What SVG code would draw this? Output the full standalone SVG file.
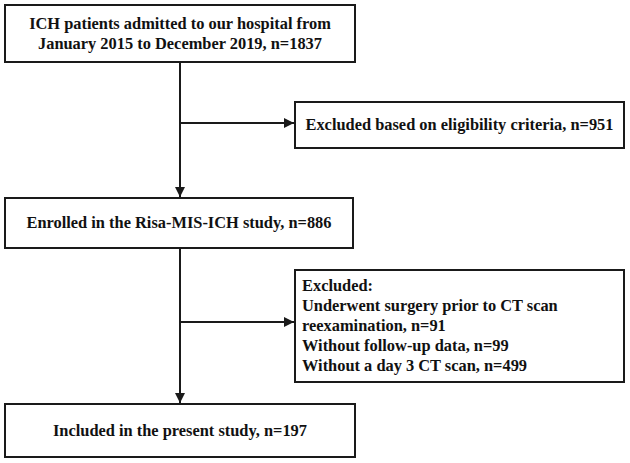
<svg xmlns="http://www.w3.org/2000/svg" width="630" height="463" viewBox="0 0 630 463">
<style>
.box{fill:#fff;stroke:#1a1a1a;stroke-width:2}
.t{font-family:"Liberation Serif","Times New Roman",serif;font-weight:bold;font-size:16.4px;fill:#111}
.c{text-anchor:middle}
.ln{stroke:#1a1a1a;stroke-width:2;fill:none}
</style>
<defs>
<marker id="ah" viewBox="0 0 10 10" refX="10" refY="5" markerWidth="6" markerHeight="5" markerUnits="strokeWidth" orient="auto">
<path d="M0,0 L10,5 L0,10 z" fill="#1a1a1a"/>
</marker>
</defs>
<rect width="630" height="463" fill="#fff"/>
<g id="connectors">
<line class="ln" x1="180" y1="62" x2="180" y2="197" marker-end="url(#ah)"/>
<line class="ln" x1="180" y1="123" x2="294" y2="123" marker-end="url(#ah)"/>
<line class="ln" x1="180" y1="248" x2="180" y2="403" marker-end="url(#ah)"/>
<line class="ln" x1="180" y1="322" x2="294" y2="322" marker-end="url(#ah)"/>
</g>
<g id="n1">
<rect class="box" x="5" y="5" width="350" height="57"/>
<text class="t c" x="180" y="29">ICH patients admitted to our hospital from</text>
<text class="t c" x="180" y="49">January 2015 to December 2019, n=1837</text>
</g>
<g id="n2">
<rect class="box" x="295" y="102" width="329" height="46"/>
<text class="t c" x="459.5" y="130">Excluded based on eligibility criteria, n=951</text>
</g>
<g id="n3">
<rect class="box" x="5" y="198" width="348" height="50"/>
<text class="t c" x="179" y="228">Enrolled in the Risa-MIS-ICH study, n=886</text>
</g>
<g id="n4">
<rect class="box" x="295" y="270" width="329" height="112"/>
<text class="t" x="302" y="291">Excluded:</text>
<text class="t" x="302" y="311">Underwent surgery prior to CT scan</text>
<text class="t" x="302" y="331">reexamination, n=91</text>
<text class="t" x="302" y="351">Without follow-up data, n=99</text>
<text class="t" x="302" y="371">Without a day 3 CT scan, n=499</text>
</g>
<g id="n5">
<rect class="box" x="5" y="404" width="350" height="53"/>
<text class="t c" x="180" y="436">Included in the present study, n=197</text>
</g>
</svg>
